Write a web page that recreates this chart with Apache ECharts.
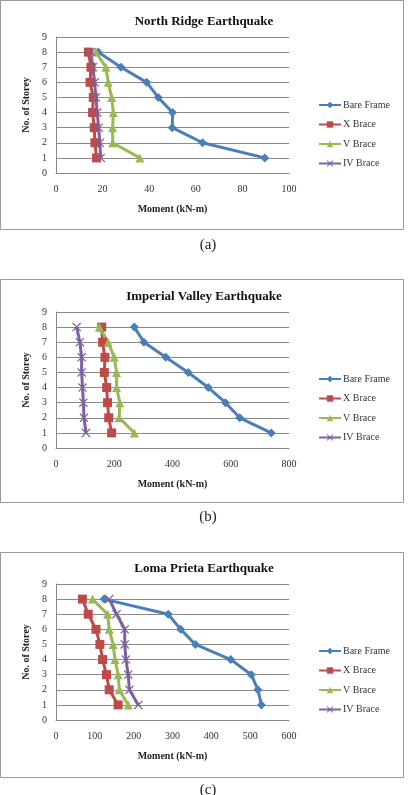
<!DOCTYPE html>
<html>
<head>
<meta charset="utf-8">
<script src="https://cdn.jsdelivr.net/npm/echarts@6/dist/echarts.min.js"></script>
<style>
html, body { margin: 0; padding: 0; background: #fff; }
#chart { width: 411px; height: 795px; }
</style>
</head>
<body>
<div id="chart"></div>
<script>
// storey numbers (y values) shared by all three charts
var storeys = [1, 2, 3, 4, 5, 6, 7, 8];
var yTicks = [0, 1, 2, 3, 4, 5, 6, 7, 8, 9];
var seriesNames = ['Bare Frame', 'X Brace', 'V Brace', 'IV Brace'];
var chartTitles = ['North Ridge Earthquake', 'Imperial Valley Earthquake', 'Loma Prieta Earthquake'];
var captions = ['(a)', '(b)', '(c)'];
var xMax = [100, 800, 600];
var xStep = [20, 200, 100];

// moment (kN-m), storey 1 -> 8
var nrBare = [89.6, 62.9, 49.9, 50, 43.9, 38.9, 27.9, 18.1];
var nrX = [17.4, 16.7, 16.4, 15.7, 16, 14.6, 15, 13.9];
var nrV = [36, 24.3, 24.3, 24.6, 23.9, 22.4, 21.4, 17.1];
var nrIV = [19.2, 18.8, 18.3, 17.7, 17.1, 16.6, 15.8, 15];

var ivBare = [739, 631, 582, 523, 454, 377, 302, 269];
var ivX = [191, 181, 177, 174, 166, 168, 160, 157];
var ivV = [269, 217, 219, 208, 208, 200, 179, 149];
var ivIV = [103, 96, 94, 91, 88, 88, 82, 71];

var lpBare = [529, 520, 503, 450, 359, 321, 289, 124];
var lpX = [160, 137, 130, 120, 113, 103, 83, 68];
var lpV = [186, 163, 160, 152, 147, 137, 133, 94];
var lpIV = [212, 189, 186, 180, 177, 177, 156, 137];

var allData = [
	[nrBare, nrX, nrV, nrIV],
	[ivBare, ivX, ivV, ivIV],
	[lpBare, lpX, lpV, lpIV]
];

var color = ['#4a7ebb', '#be4b48', '#98b954', '#7d60a0'];
var crossIcon = 'path://M0,1L1,0L5,4L9,0L10,1L6,5L10,9L9,10L5,6L1,10L0,9L4,5Z';
var symbols = ['diamond', 'rect', 'triangle', crossIcon];
var symbolSizes = [9, 9, 9, 9];
var font = 'Liberation Serif';

// panel layout
var gridTop = [37, 312, 584];
var titleTop = [10, 285, 557];
var legendTop = [95, 369, 641];
var captionTop = [233, 505, 778];

var chart = echarts.init(document.getElementById('chart'));

var grids = [], xAxes = [], yAxes = [], titles = [], legends = [], series = [];
for (var p = 0; p < 3; p++) {
	grids.push({ left: 56, width: 233, top: gridTop[p], height: 136 });
	titles.push({
		text: chartTitles[p], left: 199, top: titleTop[p], textAlign: 'center',
		textStyle: { fontFamily: font, fontSize: 13, fontWeight: 'bold', color: '#111' }
	});
	titles.push({
		text: captions[p], left: 203, top: captionTop[p], textAlign: 'center',
		textStyle: { fontFamily: font, fontSize: 15, fontWeight: 'normal', color: '#222' }
	});
	xAxes.push({
		gridIndex: p, type: 'value', min: 0, max: xMax[p], interval: xStep[p],
		name: 'Moment (kN-m)', nameLocation: 'middle', nameGap: 31,
		nameTextStyle: { fontFamily: font, fontSize: 10, fontWeight: 'bold', color: '#222' },
		axisLine: { lineStyle: { color: '#888' } },
		axisTick: { show: false },
		axisLabel: { fontFamily: font, fontSize: 10, color: '#333', margin: 11 },
		splitLine: { show: false }
	});
	yAxes.push({
		gridIndex: p, type: 'value', min: yTicks[0], max: yTicks[yTicks.length - 1], interval: 1,
		name: 'No. of Storey', nameLocation: 'middle', nameGap: 22,
		nameTextStyle: { fontFamily: font, fontSize: 10, fontWeight: 'bold', color: '#222' },
		axisLine: { show: true, lineStyle: { color: '#888' } },
		axisTick: { show: false },
		axisLabel: { fontFamily: font, fontSize: 10, color: '#333', margin: 9 },
		splitLine: { show: true, lineStyle: { color: '#8a8a8a', width: 1 } }
	});
	legends.push({
		data: seriesNames.map(function (n) { return n + '#' + p; }),
		formatter: function (n) { return n.split('#')[0]; },
		orient: 'vertical', left: 313, top: legendTop[p],
		itemWidth: 22, itemHeight: 8, itemGap: 9.5,
		textStyle: { fontFamily: font, fontSize: 10, color: '#333', padding: [0, 0, 0, -3] },
		selectedMode: false
	});
	allData[p].forEach(function (values, i) {
		series.push({
			name: seriesNames[i] + '#' + p,
			type: 'line',
			xAxisIndex: p, yAxisIndex: p,
			data: values.map(function (v, k) { return [v, storeys[k]]; }),
			symbol: symbols[i],
			symbolSize: symbolSizes[i],
			showAllSymbol: true,
			lineStyle: { color: color[i], width: 3 },
			itemStyle: { color: color[i] },
			animation: false
		});
	});
}

var boxes = [[-2, 227], [277, 500], [550, 775]];
var graphics = [];
boxes.forEach(function (b) {
	graphics.push({
		type: 'rect', left: -2, top: b[0], z: -1,
		shape: { width: 403, height: b[1] - b[0] },
		style: { fill: 'none', stroke: '#9a9a9a', lineWidth: 1 }
	});
});

chart.setOption({
	backgroundColor: '#fff',
	animation: false,
	title: titles,
	legend: legends,
	grid: grids,
	xAxis: xAxes,
	yAxis: yAxes,
	series: series,
	graphic: graphics
});
</script>
</body>
</html>
